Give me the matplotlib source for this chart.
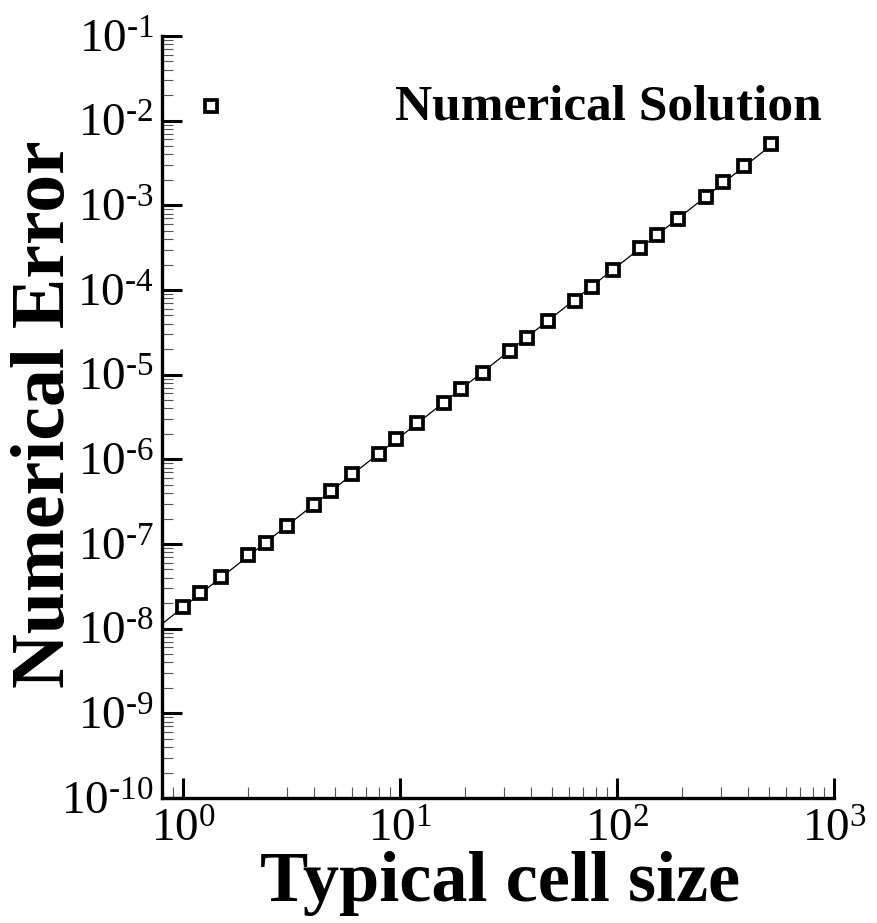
import numpy as np
import matplotlib
matplotlib.use("Agg")
import matplotlib.pyplot as plt
from matplotlib.ticker import LogLocator, FuncFormatter, NullFormatter

plt.rcParams['font.family'] = ['Liberation Serif', 'DejaVu Serif']
plt.rcParams['mathtext.fontset'] = 'custom'
plt.rcParams['mathtext.rm'] = 'Liberation Serif'
plt.rcParams['mathtext.it'] = 'Liberation Serif:italic'
plt.rcParams['mathtext.bf'] = 'Liberation Serif:bold'

# data
cell_size = [1, 1.2, 1.5, 2, 2.4, 3, 4, 4.8, 6, 8, 9.6, 12, 16, 19.2, 24, 32,
             38.4, 48, 64, 76.8, 96, 128, 153.6, 192, 256, 307.2, 384, 512]
num_error = [1.79e-8, 2.66e-8, 4.11e-8, 7.41e-8, 1.02e-7, 1.63e-7, 2.86e-7,
             4.19e-7, 6.65e-7, 1.15e-6, 1.75e-6, 2.71e-6, 4.67e-6, 6.71e-6,
             1.04e-5, 1.90e-5, 2.69e-5, 4.31e-5, 7.48e-5, 1.09e-4, 1.72e-4,
             3.16e-4, 4.46e-4, 6.90e-4, 1.26e-3, 1.90e-3, 2.94e-3, 5.30e-3]
series_label = "Numerical Solution"
x_label = "Typical cell size"
y_label = "Numerical Error"
x_limits = (0.8, 1e3)
y_limits = (1e-10, 1e-1)

W, H = 877, 923
fig = plt.figure(figsize=(W / 100, H / 100), dpi=100)
ax = fig.add_axes([162 / W, 1 - 798 / H, (834 - 162) / W, (798 - 36) / H])

ax.set_xscale('log')
ax.set_yscale('log')
ax.set_xlim(*x_limits)
ax.set_ylim(*y_limits)

# fitted reference line through data (log-log)
lx = np.log10(cell_size)
ly = np.log10(num_error)
p = np.polyfit(lx, ly, 1)
xf = np.array([x_limits[0], cell_size[-1]])
ax.plot(xf, 10 ** np.polyval(p, np.log10(xf)), color='black', lw=0.9, zorder=2)

ax.plot(cell_size, num_error, linestyle='none', marker='s', ms=9.2,
        mfc='white', mec='black', mew=2.7, label=series_label, zorder=3)

for s in ['top', 'right']:
    ax.spines[s].set_visible(False)
for s in ['left', 'bottom']:
    ax.spines[s].set_linewidth(2.4)


def pow_fmt(v, pos):
    e = int(round(np.log10(v)))
    s = str(e).replace('-', '\u2010')
    return r'$\mathregular{10^{%s}}$' % s


ax.xaxis.set_major_locator(LogLocator(base=10, numticks=20))
ax.yaxis.set_major_locator(LogLocator(base=10, numticks=20))
ax.xaxis.set_minor_locator(LogLocator(base=10, subs=np.arange(2, 10), numticks=20))
ax.yaxis.set_minor_locator(LogLocator(base=10, subs=np.arange(2, 10), numticks=20))
ax.xaxis.set_minor_formatter(NullFormatter())
ax.yaxis.set_minor_formatter(NullFormatter())
ax.xaxis.set_major_formatter(FuncFormatter(pow_fmt))
ax.yaxis.set_major_formatter(FuncFormatter(pow_fmt))

ax.tick_params(which='major', direction='in', length=14.5, width=2.2,
               labelsize=34, color='black')
ax.tick_params(which='minor', direction='in', length=8, width=0.8, color='#555555')
ax.tick_params(axis='y', which='major', pad=6)
ax.tick_params(axis='x', which='major', pad=8)

ax.set_xlabel(x_label, fontsize=52, fontweight='bold')
ax.xaxis.set_label_coords(0.5 * (260 + 740) / W, 1 - 851 / H, transform=fig.transFigure)
ax.set_ylabel(y_label, fontsize=54.5, fontweight='bold')
ax.yaxis.set_label_coords(80 / W, 1 - 414 / H, transform=fig.transFigure)

leg = ax.legend(loc='center left', bbox_to_anchor=(185.3 / W, 1 - 108 / H),
                bbox_transform=fig.transFigure, frameon=False,
                prop={'weight': 'bold', 'size': 37}, handlelength=1.0,
                handleheight=0.16,
                handletextpad=3.08, borderpad=0, borderaxespad=0, numpoints=1)

fig.savefig("out.png", dpi=100)
